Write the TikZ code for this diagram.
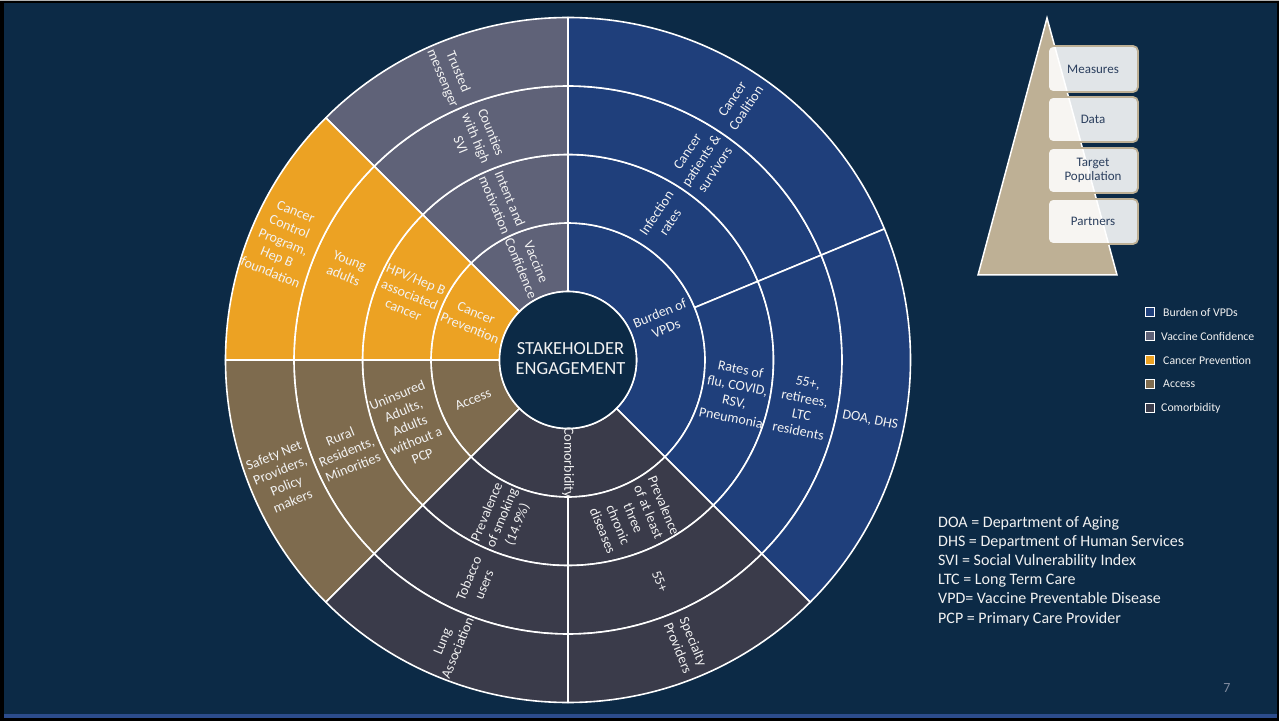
\documentclass[tikz,border=0pt]{standalone}
\usepackage{fontspec}
\setmainfont{Carlito}
\definecolor{bgnavy}{HTML}{0C2A46}
\definecolor{vpdblue}{HTML}{1F3F7B}
\definecolor{vacgray}{HTML}{5F6278}
\definecolor{canorange}{HTML}{ECA223}
\definecolor{accbrown}{HTML}{7E6B4E}
\definecolor{comdark}{HTML}{3A3B4A}
\definecolor{pyrtan}{HTML}{BEB095}
\definecolor{boxtext}{HTML}{2B3F5E}
\definecolor{pagegray}{HTML}{7F8A9E}
\definecolor{lbltext}{HTML}{F2F2F2}
\definecolor{stripblue}{HTML}{2C4C8C}
\newcommand{\annseg}[5]{%
  \filldraw[fill=#5, draw=white, line width=1.6pt, line join=round]
    (#1:#3pt) arc[start angle=#1, end angle=#2, radius=#3pt]
    -- (#2:#4pt) arc[start angle=#2, end angle=#1, radius=#4pt] -- cycle;}
\newcommand{\seglabel}[5]{\node[lbl, rotate=#3] (#4) at (#1:#2pt) {#5};}
\begin{document}
\begin{tikzpicture}[x=1pt,y=1pt,
  lbl/.style={text=lbltext, font=\fontsize{14}{16.5}\selectfont, align=center, inner sep=0pt},
  pbox/.style={draw=pyrtan, line width=1.8pt, fill=white, fill opacity=0.88, text opacity=1,
    rounded corners=5pt, minimum width=90pt, text=boxtext,
    font=\fontsize{13}{14.5}\selectfont, align=center},
  legsq/.style={draw=white, line width=1.3pt, minimum size=9pt, inner sep=0pt},
  legtxt/.style={anchor=west, text=lbltext, font=\fontsize{11.8}{13}\selectfont, inner sep=0pt},
  abbr/.style={anchor=base west, text=lbltext, font=\fontsize{16}{19}\selectfont, inner sep=0pt}]
\useasboundingbox (0,0) rectangle (1279,721);
% frame
\fill[black] (0,0) rectangle (1279,721);
\fill[bgnavy] (4,3) rectangle (1277,718);
\fill[gray!60] (0,719.5) rectangle (1279,721);
\fill[stripblue] (4,3) rectangle (1277,7);

\begin{scope}[shift={(568,361)}]
% Burden of VPDs
\annseg{-45}{90}{68.5}{137}{vpdblue}
\annseg{22.5}{90}{137}{205.5}{vpdblue}
\annseg{22.5}{90}{205.5}{274}{vpdblue}
\annseg{22.5}{90}{274}{342.5}{vpdblue}
\annseg{-45}{22.5}{137}{205.5}{vpdblue}
\annseg{-45}{22.5}{205.5}{274}{vpdblue}
\annseg{-45}{22.5}{274}{342.5}{vpdblue}
% Vaccine confidence
\annseg{90}{135}{68.5}{137}{vacgray}
\annseg{90}{135}{137}{205.5}{vacgray}
\annseg{90}{135}{205.5}{274}{vacgray}
\annseg{90}{135}{274}{342.5}{vacgray}
% Cancer prevention
\annseg{135}{180}{68.5}{137}{canorange}
\annseg{135}{180}{137}{205.5}{canorange}
\annseg{135}{180}{205.5}{274}{canorange}
\annseg{135}{180}{274}{342.5}{canorange}
% Access
\annseg{180}{225}{68.5}{137}{accbrown}
\annseg{180}{225}{137}{205.5}{accbrown}
\annseg{180}{225}{205.5}{274}{accbrown}
\annseg{180}{225}{274}{342.5}{accbrown}
% Comorbidity
\annseg{225}{315}{68.5}{137}{comdark}
\annseg{225}{270}{137}{205.5}{comdark}
\annseg{225}{270}{205.5}{274}{comdark}
\annseg{225}{270}{274}{342.5}{comdark}
\annseg{270}{315}{137}{205.5}{comdark}
\annseg{270}{315}{205.5}{274}{comdark}
\annseg{270}{315}{274}{342.5}{comdark}
% hub
\node[circle, fill=bgnavy, draw=white, line width=1.6pt, minimum size=137pt, inner sep=0pt] (hub) at (0,0) {};
\node[text=lbltext, font=\fontsize{18.5}{20}\selectfont, align=center, inner sep=0pt] (hubtext) at (2.5,1) {STAKEHOLDER\\ENGAGEMENT};
% labels: Burden of VPDs
\seglabel{22.5}{102.75}{22.5}{bv1}{Burden of\\VPDs}
\seglabel{56.25}{171.25}{56.25}{bv2}{Infection\\rates}
\seglabel{56.25}{239.75}{56.25}{bv3}{Cancer\\patients \&\\survivors}
\seglabel{56.25}{308.25}{56.25}{bv4}{Cancer\\Coalition}
\seglabel{-11.25}{171.25}{-11.25}{bv5}{Rates of\\flu, COVID,\\RSV,\\Pneumonia}
\seglabel{-11.25}{239.75}{-11.25}{bv6}{55+,\\retirees,\\LTC\\residents}
\seglabel{-11.25}{308.25}{-11.25}{bv7}{DOA, DHS}
% Vaccine confidence
\seglabel{112.5}{102.75}{-67.5}{vc1}{Vaccine\\Confidence}
\seglabel{112.5}{171.25}{-67.5}{vc2}{Intent and\\motivation}
\seglabel{112.5}{239.75}{-67.5}{vc3}{Counties\\with high\\SVI}
\seglabel{112.5}{308.25}{-67.5}{vc4}{Trusted\\messenger}
% Cancer prevention
\seglabel{157.5}{102.75}{-22.5}{cp1}{Cancer\\Prevention}
\seglabel{157.5}{171.25}{-22.5}{cp2}{HPV/Hep B\\associated\\cancer}
\seglabel{157.5}{239.75}{-22.5}{cp3}{Young\\adults}
\seglabel{157.5}{308.25}{-22.5}{cp4}{Cancer\\Control\\Program,\\Hep B\\foundation}
% Access
\seglabel{202.5}{102.75}{22.5}{ac1}{Access}
\seglabel{202.5}{171.25}{22.5}{ac2}{Uninsured\\Adults,\\Adults\\without a\\PCP}
\seglabel{202.5}{239.75}{22.5}{ac3}{Rural\\Residents,\\Minorities}
\seglabel{202.5}{308.25}{22.5}{ac4}{Safety Net\\Providers,\\Policy\\makers}
% Comorbidity
\seglabel{270}{102.75}{-90}{co1}{Comorbidity}
\seglabel{247.5}{171.25}{67.5}{co2}{Prevalence\\of smoking\\(14.9\%)}
\seglabel{247.5}{239.75}{67.5}{co3}{Tobacco\\users}
\seglabel{247.5}{308.25}{67.5}{co4}{Lung\\Association}
\seglabel{292.5}{171.25}{-67.5}{co5}{Prevalence\\of at least\\three\\chronic\\diseases}
\seglabel{292.5}{239.75}{-67.5}{co6}{55+}
\seglabel{292.5}{308.25}{-67.5}{co7}{Specialty\\Providers}
\end{scope}

% pyramid
\filldraw[fill=pyrtan, draw=white, line width=1.5pt, line join=miter] (1047,703) -- (1117,446) -- (978,446) -- cycle;
\node[pbox, minimum height=46pt] (measures) at (1093,652) {Measures};
\node[pbox, minimum height=45pt] (data) at (1093,601.5) {Data};
\node[pbox, minimum height=45pt] (target) at (1093,550.5) {Target\\Population};
\node[pbox, minimum height=45pt] (partners) at (1093,499.5) {Partners};

% legend
\node[legsq, fill=vpdblue] (lg1) at (1150,409) {};
\node[legsq, fill=vacgray] (lg2) at (1150,385) {};
\node[legsq, fill=canorange] (lg3) at (1150,361) {};
\node[legsq, fill=accbrown] (lg4) at (1150,337) {};
\node[legsq, fill=comdark] (lg5) at (1150,313) {};
\node[legtxt] (lt1) at (1163,409) {Burden of VPDs};
\node[legtxt] (lt2) at (1161,385) {Vaccine Confidence};
\node[legtxt] (lt3) at (1163,361) {Cancer Prevention};
\node[legtxt] (lt4) at (1163,337) {Access};
\node[legtxt] (lt5) at (1161,313) {Comorbidity};

% abbreviations
\node[abbr] (ab1) at (938,194) {DOA = Department of Aging};
\node[abbr] (ab2) at (938,175) {DHS = Department of Human Services};
\node[abbr] (ab3) at (938,155.7) {SVI = Social Vulnerability Index};
\node[abbr] (ab4) at (938,136.4) {LTC = Long Term Care};
\node[abbr] (ab5) at (938,117.1) {VPD= Vaccine Preventable Disease};
\node[abbr] (ab6) at (938,97.8) {PCP = Primary Care Provider};

% page number
\node[text=pagegray, font=\fontsize{14}{16}\selectfont] (pagenum) at (1227,33) {7};
\end{tikzpicture}
\end{document}
